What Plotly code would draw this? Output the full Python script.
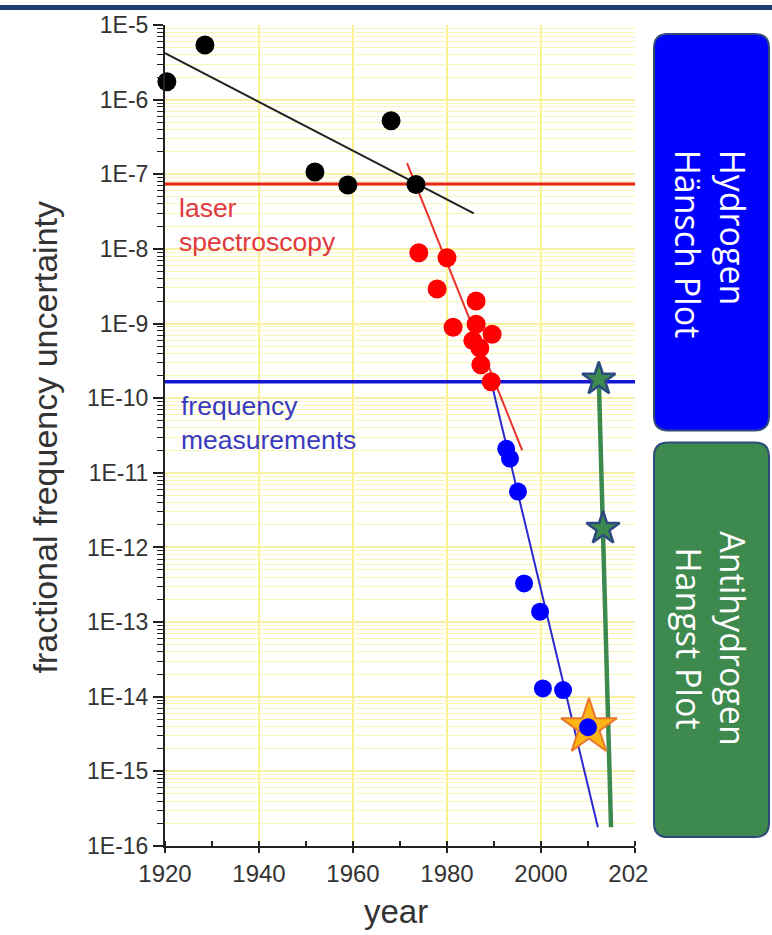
import plotly.graph_objects as go

# ---------------- data ----------------
black_years = [1920.4, 1928.5, 1951.9, 1958.9, 1968.1, 1973.4]
black_vals = [1.74e-6, 5.4e-6, 1.07e-7, 7.2e-8, 5.2e-7, 7.3e-8]
black_fit_years = [1920.0, 1985.7]
black_fit_vals = [4.2e-6, 3.0e-8]

red_years = [1974.0, 1980.0, 1977.9, 1986.2, 1981.3, 1986.2, 1989.6, 1985.5, 1987.0, 1987.2, 1989.4]
red_vals = [8.9e-9, 7.6e-9, 2.9e-9, 2.0e-9, 8.9e-10, 9.8e-10, 7.2e-10, 5.9e-10, 4.7e-10, 2.8e-10, 1.66e-10]
red_fit_years = [1971.5, 1996.0]
red_fit_vals = [1.41e-7, 2.0e-11]

blue_years = [1992.6, 1993.4, 1995.1, 1996.4, 1999.8, 2000.4, 2004.7, 2010.0]
blue_vals = [2.1e-11, 1.55e-11, 5.6e-12, 3.3e-13, 1.38e-13, 1.29e-14, 1.23e-14, 3.9e-15]
blue_fit_years = [1989.4, 2012.1]
blue_fit_vals = [1.66e-10, 1.78e-16]

level_years = [1920, 2020]
laser_level = 7.4e-8
freq_level = 1.66e-10

green_line_years = [2012.3, 2014.9]
green_line_vals = [1.8e-10, 1.78e-16]
green_star_years = [2012.3, 2013.2]
green_star_vals = [1.8e-10, 1.8e-12]

orange_star_year = [2010.2]
orange_star_val = [3.9e-15]

x_tick_vals = [1920, 1930, 1940, 1950, 1960, 1970, 1980, 1990, 2000, 2010, 2020]
x_tick_text = ["1920", "", "1940", "", "1960", "", "1980", "", "2000", "", "202\u2007"]
y_exps = list(range(-16, -4))
y_tick_vals = [10.0 ** e for e in y_exps]
y_tick_text = ["1E%d" % e for e in y_exps]
y_minor_vals = [m * 10.0 ** e for e in range(-16, -5) for m in range(2, 10)]

# ---------------- geometry ----------------
W, H = 772, 935
L, R, T, B = 165, 635, 20, 846


def px(x):
    return (x - L) / (R - L)


def py(y):
    return (B - y) / (B - T)


def rounded_rect(x0, y0, x1, y1, r):
    rx = r / (R - L)
    ry = r / (B - T)
    X0, X1 = px(x0), px(x1)
    Yt, Yb = py(y0), py(y1)
    return (f"M {X0+rx},{Yt} L {X1-rx},{Yt} Q {X1},{Yt} {X1},{Yt-ry} "
            f"L {X1},{Yb+ry} Q {X1},{Yb} {X1-rx},{Yb} "
            f"L {X0+rx},{Yb} Q {X0},{Yb} {X0},{Yb+ry} "
            f"L {X0},{Yt-ry} Q {X0},{Yt} {X0+rx},{Yt} Z")


fig = go.Figure()

# horizontal reference levels
fig.add_trace(go.Scatter(x=level_years, y=[laser_level, laser_level], mode="lines",
                         line=dict(color="#E8231E", width=3), hoverinfo="skip"))
fig.add_trace(go.Scatter(x=level_years, y=[freq_level, freq_level], mode="lines",
                         line=dict(color="#1515D5", width=3.5), hoverinfo="skip"))

# fit lines
fig.add_trace(go.Scatter(x=black_fit_years, y=black_fit_vals, mode="lines",
                         line=dict(color="#222222", width=2)))
fig.add_trace(go.Scatter(x=red_fit_years, y=red_fit_vals, mode="lines",
                         line=dict(color="#E8312A", width=2)))
fig.add_trace(go.Scatter(x=blue_fit_years, y=blue_fit_vals, mode="lines",
                         line=dict(color="#2A2AD0", width=2)))
fig.add_trace(go.Scatter(x=green_line_years, y=green_line_vals, mode="lines",
                         line=dict(color="#3C8A4E", width=4.5)))

# points
fig.add_trace(go.Scatter(x=black_years, y=black_vals, mode="markers", cliponaxis=False,
                         marker=dict(color="black", size=19, line=dict(width=0))))
fig.add_trace(go.Scatter(x=red_years, y=red_vals, mode="markers", cliponaxis=False,
                         marker=dict(color="#FF0000", size=19, line=dict(width=0))))
fig.add_trace(go.Scatter(x=orange_star_year, y=orange_star_val, mode="markers", cliponaxis=False,
                         marker=dict(symbol="star", color="#FDB515", size=42,
                                     line=dict(color="#E8772A", width=2))))
fig.add_trace(go.Scatter(x=blue_years, y=blue_vals, mode="markers", cliponaxis=False,
                         marker=dict(color="#0000FF", size=18, line=dict(width=0))))
fig.add_trace(go.Scatter(x=green_star_years, y=green_star_vals, mode="markers", cliponaxis=False,
                         marker=dict(symbol="star", color="#3C8A4E", size=25,
                                     line=dict(color="#2D4A80", width=2.5))))

font_main = "Liberation Sans, Arial, sans-serif"
font_box = "Open Sans, Noto Sans, sans-serif"

fig.update_layout(
    width=W, height=H,
    margin=dict(l=L, r=W - R, t=T, b=H - B),
    paper_bgcolor="white", plot_bgcolor="white",
    showlegend=False,
    font=dict(family=font_main, color="#222222"),
    xaxis=dict(range=[1920, 2020], tickvals=x_tick_vals, ticktext=x_tick_text,
               ticks="outside", ticklen=5, tickwidth=1.5, tickcolor="#222",
               showline=True, linecolor="#222", linewidth=2,
               showgrid=False, zeroline=False,
               tickfont=dict(size=24, color="#333"),
               minor=dict(tickvals=x_tick_vals, ticks="inside", ticklen=5,
                          tickwidth=1.5, tickcolor="#222", showgrid=False)),
    yaxis=dict(type="log", range=[-16, -5], tickvals=y_tick_vals, ticktext=y_tick_text,
               ticks="outside", ticklen=10, tickwidth=1.5, tickcolor="#222",
               showline=True, linecolor="#222", linewidth=2,
               showgrid=True, gridcolor="#F6F0A0", gridwidth=1.5, zeroline=False,
               tickfont=dict(size=23, color="#333"),
               minor=dict(tickvals=y_minor_vals, ticks="outside", ticklen=6,
                          tickwidth=1.3, tickcolor="#222",
                          showgrid=True, gridcolor="#FBF6B8", gridwidth=1)),
)

# vertical yellow grid (every 20 years)
for yr in [1940, 1960, 1980, 2000]:
    fig.add_shape(type="line", xref="x", yref="paper", x0=yr, x1=yr, y0=0, y1=1,
                  line=dict(color="#F9F38E", width=2), layer="below")

# top navy band
fig.add_shape(type="rect", xref="paper", yref="paper", x0=px(0), x1=px(W), y0=py(0), y1=py(5),
              fillcolor="#1F3C70", line=dict(width=0))

# boxes
fig.add_shape(type="path", xref="paper", yref="paper", path=rounded_rect(654, 29, 769, 428, 14),
              fillcolor="#0000FF", line=dict(color="#2E4A7D", width=2))
fig.add_shape(type="path", xref="paper", yref="paper", path=rounded_rect(654, 440, 769, 837, 14),
              fillcolor="#3E894E", line=dict(color="#2E4A7D", width=2))

fig.add_annotation(xref="paper", yref="paper", x=px(711), y=py(240),
                   xanchor="center", yanchor="middle",
                   text="Hydrogen<br>Hänsch Plot", textangle=90, showarrow=False, align="left",
                   font=dict(family=font_box, size=34, color="white"))
fig.add_annotation(xref="paper", yref="paper", x=px(711), y=py(637),
                   xanchor="center", yanchor="middle",
                   text="Antihydrogen<br>Hangst Plot", textangle=90, showarrow=False, align="center",
                   font=dict(family=font_box, size=34, color="white"))

# in-plot labels
fig.add_annotation(xref="paper", yref="paper", x=px(177), y=py(221), xanchor="left", yanchor="middle",
                   text="laser<br>spectroscopy", showarrow=False, align="left",
                   font=dict(size=26.5, color="#E0393E"))
fig.add_annotation(xref="paper", yref="paper", x=px(179), y=py(420), xanchor="left", yanchor="middle",
                   text="frequency<br>measurements", showarrow=False, align="left",
                   font=dict(size=26.5, color="#3A3AC0"))

# axis titles
fig.add_annotation(xref="paper", yref="paper", x=px(45), y=py(435), textangle=-90,
                   xanchor="center", yanchor="middle",
                   text="fractional frequency uncertainty", showarrow=False,
                   font=dict(size=34, color="#333"))
fig.add_annotation(xref="paper", yref="paper", x=px(396), y=py(912),
                   xanchor="center", yanchor="middle",
                   text="year", showarrow=False, font=dict(size=33, color="#333"))

fig.write_html("out.html")
